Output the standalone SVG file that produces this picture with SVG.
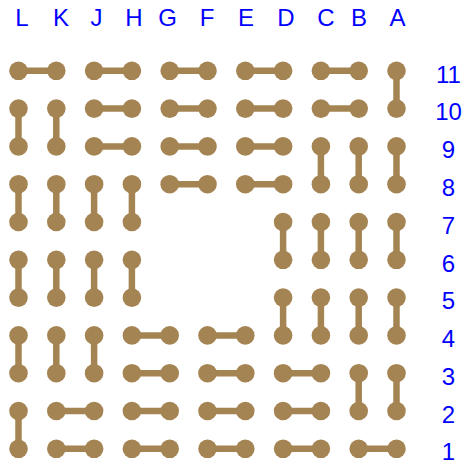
<svg xmlns="http://www.w3.org/2000/svg" width="464" height="464" viewBox="0 0 464 464">
<style>
.lbl{font-family:"Liberation Sans",Arial,sans-serif;font-size:24px;fill:#0000ff;text-anchor:middle}
.bar{stroke:#a58453;stroke-width:6.5;fill:none}
.dot{fill:#a58453}
</style>
<rect width="464" height="464" fill="#fff"/>
<g id="col-labels">
<text class="lbl" x="22" y="26">L</text>
<text class="lbl" x="61" y="26">K</text>
<text class="lbl" x="96.5" y="26">J</text>
<text class="lbl" x="134" y="26">H</text>
<text class="lbl" x="167.5" y="26">G</text>
<text class="lbl" x="207" y="26">F</text>
<text class="lbl" x="246" y="26">E</text>
<text class="lbl" x="286" y="26">D</text>
<text class="lbl" x="326" y="26">C</text>
<text class="lbl" x="359" y="26">B</text>
<text class="lbl" x="397.5" y="26">A</text>
</g>
<g id="row-labels">
<text class="lbl" x="448.5" y="82.5">11</text>
<text class="lbl" x="448.5" y="120.3">10</text>
<text class="lbl" x="448.5" y="158.1">9</text>
<text class="lbl" x="448.5" y="195.9">8</text>
<text class="lbl" x="448.5" y="233.7">7</text>
<text class="lbl" x="448.5" y="271.5">6</text>
<text class="lbl" x="448.5" y="309.3">5</text>
<text class="lbl" x="448.5" y="347.1">4</text>
<text class="lbl" x="448.5" y="384.9">3</text>
<text class="lbl" x="448.5" y="422.7">2</text>
<text class="lbl" x="448.5" y="459.5">1</text>
</g>
<g id="connectors" class="bar">
<!-- row 11 -->
<line x1="18.5" y1="70.8" x2="56.3" y2="70.8"/>
<line x1="94.1" y1="70.8" x2="131.9" y2="70.8"/>
<line x1="169.7" y1="70.8" x2="207.5" y2="70.8"/>
<line x1="245.3" y1="70.8" x2="283.1" y2="70.8"/>
<line x1="320.9" y1="70.8" x2="358.7" y2="70.8"/>
<line x1="396.5" y1="70.8" x2="396.5" y2="108.6"/>
<!-- row 10 -->
<line x1="18.5" y1="108.6" x2="18.5" y2="146.4"/>
<line x1="56.3" y1="108.6" x2="56.3" y2="146.4"/>
<line x1="94.1" y1="108.6" x2="131.9" y2="108.6"/>
<line x1="169.7" y1="108.6" x2="207.5" y2="108.6"/>
<line x1="245.3" y1="108.6" x2="283.1" y2="108.6"/>
<line x1="320.9" y1="108.6" x2="358.7" y2="108.6"/>
<!-- row 9 -->
<line x1="94.1" y1="146.4" x2="131.9" y2="146.4"/>
<line x1="169.7" y1="146.4" x2="207.5" y2="146.4"/>
<line x1="245.3" y1="146.4" x2="283.1" y2="146.4"/>
<line x1="320.9" y1="146.4" x2="320.9" y2="184.2"/>
<line x1="358.7" y1="146.4" x2="358.7" y2="184.2"/>
<line x1="396.5" y1="146.4" x2="396.5" y2="184.2"/>
<!-- row 8 -->
<line x1="18.5" y1="184.2" x2="18.5" y2="222"/>
<line x1="56.3" y1="184.2" x2="56.3" y2="222"/>
<line x1="94.1" y1="184.2" x2="94.1" y2="222"/>
<line x1="131.9" y1="184.2" x2="131.9" y2="222"/>
<line x1="169.7" y1="184.2" x2="207.5" y2="184.2"/>
<line x1="245.3" y1="184.2" x2="283.1" y2="184.2"/>
<!-- row 7 -->
<line x1="283.1" y1="222" x2="283.1" y2="259.8"/>
<line x1="320.9" y1="222" x2="320.9" y2="259.8"/>
<line x1="358.7" y1="222" x2="358.7" y2="259.8"/>
<line x1="396.5" y1="222" x2="396.5" y2="259.8"/>
<!-- row 6 -->
<line x1="18.5" y1="259.8" x2="18.5" y2="297.6"/>
<line x1="56.3" y1="259.8" x2="56.3" y2="297.6"/>
<line x1="94.1" y1="259.8" x2="94.1" y2="297.6"/>
<line x1="131.9" y1="259.8" x2="131.9" y2="297.6"/>
<!-- row 5 -->
<line x1="283.1" y1="297.6" x2="283.1" y2="335.4"/>
<line x1="320.9" y1="297.6" x2="320.9" y2="335.4"/>
<line x1="358.7" y1="297.6" x2="358.7" y2="335.4"/>
<line x1="396.5" y1="297.6" x2="396.5" y2="335.4"/>
<!-- row 4 -->
<line x1="18.5" y1="335.4" x2="18.5" y2="373.2"/>
<line x1="56.3" y1="335.4" x2="56.3" y2="373.2"/>
<line x1="94.1" y1="335.4" x2="94.1" y2="373.2"/>
<line x1="131.9" y1="335.4" x2="169.7" y2="335.4"/>
<line x1="207.5" y1="335.4" x2="245.3" y2="335.4"/>
<!-- row 3 -->
<line x1="131.9" y1="373.2" x2="169.7" y2="373.2"/>
<line x1="207.5" y1="373.2" x2="245.3" y2="373.2"/>
<line x1="283.1" y1="373.2" x2="320.9" y2="373.2"/>
<line x1="358.7" y1="373.2" x2="358.7" y2="411"/>
<line x1="396.5" y1="373.2" x2="396.5" y2="411"/>
<!-- row 2 -->
<line x1="18.5" y1="411" x2="18.5" y2="448.8"/>
<line x1="56.3" y1="411" x2="94.1" y2="411"/>
<line x1="131.9" y1="411" x2="169.7" y2="411"/>
<line x1="207.5" y1="411" x2="245.3" y2="411"/>
<line x1="283.1" y1="411" x2="320.9" y2="411"/>
<!-- row 1 -->
<line x1="56.3" y1="448.8" x2="94.1" y2="448.8"/>
<line x1="131.9" y1="448.8" x2="169.7" y2="448.8"/>
<line x1="207.5" y1="448.8" x2="245.3" y2="448.8"/>
<line x1="283.1" y1="448.8" x2="320.9" y2="448.8"/>
<line x1="358.7" y1="448.8" x2="396.5" y2="448.8"/>
</g>
<g id="nodes" class="dot">
<g id="r11"><circle id="L11" cx="18.5" cy="70.8" r="9.3"/><circle id="K11" cx="56.3" cy="70.8" r="9.3"/><circle id="J11" cx="94.1" cy="70.8" r="9.3"/><circle id="H11" cx="131.9" cy="70.8" r="9.3"/><circle id="G11" cx="169.7" cy="70.8" r="9.3"/><circle id="F11" cx="207.5" cy="70.8" r="9.3"/><circle id="E11" cx="245.3" cy="70.8" r="9.3"/><circle id="D11" cx="283.1" cy="70.8" r="9.3"/><circle id="C11" cx="320.9" cy="70.8" r="9.3"/><circle id="B11" cx="358.7" cy="70.8" r="9.3"/><circle id="A11" cx="396.5" cy="70.8" r="9.3"/></g>
<g id="r10"><circle id="L10" cx="18.5" cy="108.6" r="9.3"/><circle id="K10" cx="56.3" cy="108.6" r="9.3"/><circle id="J10" cx="94.1" cy="108.6" r="9.3"/><circle id="H10" cx="131.9" cy="108.6" r="9.3"/><circle id="G10" cx="169.7" cy="108.6" r="9.3"/><circle id="F10" cx="207.5" cy="108.6" r="9.3"/><circle id="E10" cx="245.3" cy="108.6" r="9.3"/><circle id="D10" cx="283.1" cy="108.6" r="9.3"/><circle id="C10" cx="320.9" cy="108.6" r="9.3"/><circle id="B10" cx="358.7" cy="108.6" r="9.3"/><circle id="A10" cx="396.5" cy="108.6" r="9.3"/></g>
<g id="r9"><circle id="L9" cx="18.5" cy="146.4" r="9.3"/><circle id="K9" cx="56.3" cy="146.4" r="9.3"/><circle id="J9" cx="94.1" cy="146.4" r="9.3"/><circle id="H9" cx="131.9" cy="146.4" r="9.3"/><circle id="G9" cx="169.7" cy="146.4" r="9.3"/><circle id="F9" cx="207.5" cy="146.4" r="9.3"/><circle id="E9" cx="245.3" cy="146.4" r="9.3"/><circle id="D9" cx="283.1" cy="146.4" r="9.3"/><circle id="C9" cx="320.9" cy="146.4" r="9.3"/><circle id="B9" cx="358.7" cy="146.4" r="9.3"/><circle id="A9" cx="396.5" cy="146.4" r="9.3"/></g>
<g id="r8"><circle id="L8" cx="18.5" cy="184.2" r="9.3"/><circle id="K8" cx="56.3" cy="184.2" r="9.3"/><circle id="J8" cx="94.1" cy="184.2" r="9.3"/><circle id="H8" cx="131.9" cy="184.2" r="9.3"/><circle id="G8" cx="169.7" cy="184.2" r="9.3"/><circle id="F8" cx="207.5" cy="184.2" r="9.3"/><circle id="E8" cx="245.3" cy="184.2" r="9.3"/><circle id="D8" cx="283.1" cy="184.2" r="9.3"/><circle id="C8" cx="320.9" cy="184.2" r="9.3"/><circle id="B8" cx="358.7" cy="184.2" r="9.3"/><circle id="A8" cx="396.5" cy="184.2" r="9.3"/></g>
<g id="r7"><circle id="L7" cx="18.5" cy="222" r="9.3"/><circle id="K7" cx="56.3" cy="222" r="9.3"/><circle id="J7" cx="94.1" cy="222" r="9.3"/><circle id="H7" cx="131.9" cy="222" r="9.3"/><circle id="D7" cx="283.1" cy="222" r="9.3"/><circle id="C7" cx="320.9" cy="222" r="9.3"/><circle id="B7" cx="358.7" cy="222" r="9.3"/><circle id="A7" cx="396.5" cy="222" r="9.3"/></g>
<g id="r6"><circle id="L6" cx="18.5" cy="259.8" r="9.3"/><circle id="K6" cx="56.3" cy="259.8" r="9.3"/><circle id="J6" cx="94.1" cy="259.8" r="9.3"/><circle id="H6" cx="131.9" cy="259.8" r="9.3"/><circle id="D6" cx="283.1" cy="259.8" r="9.3"/><circle id="C6" cx="320.9" cy="259.8" r="9.3"/><circle id="B6" cx="358.7" cy="259.8" r="9.3"/><circle id="A6" cx="396.5" cy="259.8" r="9.3"/></g>
<g id="r5"><circle id="L5" cx="18.5" cy="297.6" r="9.3"/><circle id="K5" cx="56.3" cy="297.6" r="9.3"/><circle id="J5" cx="94.1" cy="297.6" r="9.3"/><circle id="H5" cx="131.9" cy="297.6" r="9.3"/><circle id="D5" cx="283.1" cy="297.6" r="9.3"/><circle id="C5" cx="320.9" cy="297.6" r="9.3"/><circle id="B5" cx="358.7" cy="297.6" r="9.3"/><circle id="A5" cx="396.5" cy="297.6" r="9.3"/></g>
<g id="r4"><circle id="L4" cx="18.5" cy="335.4" r="9.3"/><circle id="K4" cx="56.3" cy="335.4" r="9.3"/><circle id="J4" cx="94.1" cy="335.4" r="9.3"/><circle id="H4" cx="131.9" cy="335.4" r="9.3"/><circle id="G4" cx="169.7" cy="335.4" r="9.3"/><circle id="F4" cx="207.5" cy="335.4" r="9.3"/><circle id="E4" cx="245.3" cy="335.4" r="9.3"/><circle id="D4" cx="283.1" cy="335.4" r="9.3"/><circle id="C4" cx="320.9" cy="335.4" r="9.3"/><circle id="B4" cx="358.7" cy="335.4" r="9.3"/><circle id="A4" cx="396.5" cy="335.4" r="9.3"/></g>
<g id="r3"><circle id="L3" cx="18.5" cy="373.2" r="9.3"/><circle id="K3" cx="56.3" cy="373.2" r="9.3"/><circle id="J3" cx="94.1" cy="373.2" r="9.3"/><circle id="H3" cx="131.9" cy="373.2" r="9.3"/><circle id="G3" cx="169.7" cy="373.2" r="9.3"/><circle id="F3" cx="207.5" cy="373.2" r="9.3"/><circle id="E3" cx="245.3" cy="373.2" r="9.3"/><circle id="D3" cx="283.1" cy="373.2" r="9.3"/><circle id="C3" cx="320.9" cy="373.2" r="9.3"/><circle id="B3" cx="358.7" cy="373.2" r="9.3"/><circle id="A3" cx="396.5" cy="373.2" r="9.3"/></g>
<g id="r2"><circle id="L2" cx="18.5" cy="411" r="9.3"/><circle id="K2" cx="56.3" cy="411" r="9.3"/><circle id="J2" cx="94.1" cy="411" r="9.3"/><circle id="H2" cx="131.9" cy="411" r="9.3"/><circle id="G2" cx="169.7" cy="411" r="9.3"/><circle id="F2" cx="207.5" cy="411" r="9.3"/><circle id="E2" cx="245.3" cy="411" r="9.3"/><circle id="D2" cx="283.1" cy="411" r="9.3"/><circle id="C2" cx="320.9" cy="411" r="9.3"/><circle id="B2" cx="358.7" cy="411" r="9.3"/><circle id="A2" cx="396.5" cy="411" r="9.3"/></g>
<g id="r1"><circle id="L1" cx="18.5" cy="448.8" r="9.3"/><circle id="K1" cx="56.3" cy="448.8" r="9.3"/><circle id="J1" cx="94.1" cy="448.8" r="9.3"/><circle id="H1" cx="131.9" cy="448.8" r="9.3"/><circle id="G1" cx="169.7" cy="448.8" r="9.3"/><circle id="F1" cx="207.5" cy="448.8" r="9.3"/><circle id="E1" cx="245.3" cy="448.8" r="9.3"/><circle id="D1" cx="283.1" cy="448.8" r="9.3"/><circle id="C1" cx="320.9" cy="448.8" r="9.3"/><circle id="B1" cx="358.7" cy="448.8" r="9.3"/><circle id="A1" cx="396.5" cy="448.8" r="9.3"/></g>
</g>
</svg>
